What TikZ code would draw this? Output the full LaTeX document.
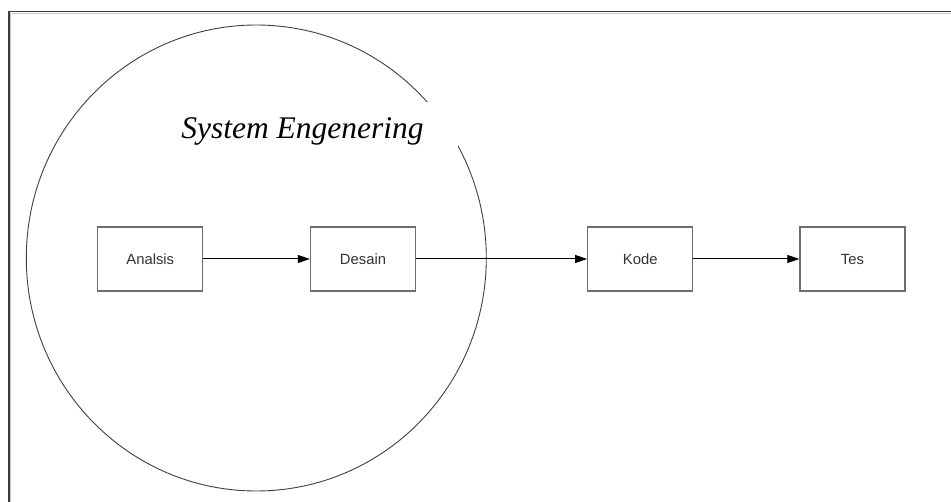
\documentclass[tikz,border=0pt]{standalone}
\usepackage{fontspec}
\setmainfont{Liberation Serif}
\setsansfont{Liberation Sans}
\usetikzlibrary{arrows.meta}
\definecolor{boxline}{HTML}{6E6E6E}
\definecolor{frameline}{HTML}{3C3C3C}
\definecolor{frameshadow}{HTML}{C8C8C8}
\tikzset{
  stepbox/.style={draw=boxline, line width=1.3pt, fill=white, minimum width=105pt, minimum height=64pt, inner sep=0pt, text height=10.6pt, text depth=0pt, font=\sffamily\fontsize{14.8}{16}\selectfont, text=black!80},
  flow/.style={draw=black, line width=1pt, -{Triangle[length=12pt,width=8pt]}},
  ringline/.style={draw=black!75, line width=0.9pt},
  titletext/.style={fill=white, inner sep=0pt, minimum width=311pt, minimum height=58pt, font=\itshape\fontsize{31.5}{36}\selectfont}
}
\begin{document}
\begin{tikzpicture}[x=1pt,y=-1pt]
\useasboundingbox (0,0) rectangle (951,502);
\fill[white] (0,0) rectangle (951,502);
% frame (top and left edges)
\draw[frameshadow, line width=1pt] (10.6,502) -- (10.6,13.1) -- (951,13.1);
\draw[frameline, line width=1.4pt] (9,502) -- (9,11.6) -- (951,11.6);
% ring
\draw[ringline] (256.3,258) ellipse [x radius=230, y radius=233];
\node[titletext] (title) at (302.5,131) {System Engenering};
% boxes
\node[stepbox] (analsis) at (150.3,259) {Analsis};
\node[stepbox] (desain) at (363,259) {Desain};
\node[stepbox] (kode) at (640.2,259) {Kode};
\node[stepbox] (tes) at (852.5,259) {Tes};
% connectors
\draw[flow] (analsis) -- (desain);
\draw[flow] (desain) -- (kode);
\draw[flow] (kode) -- (tes);
\end{tikzpicture}
\end{document}
